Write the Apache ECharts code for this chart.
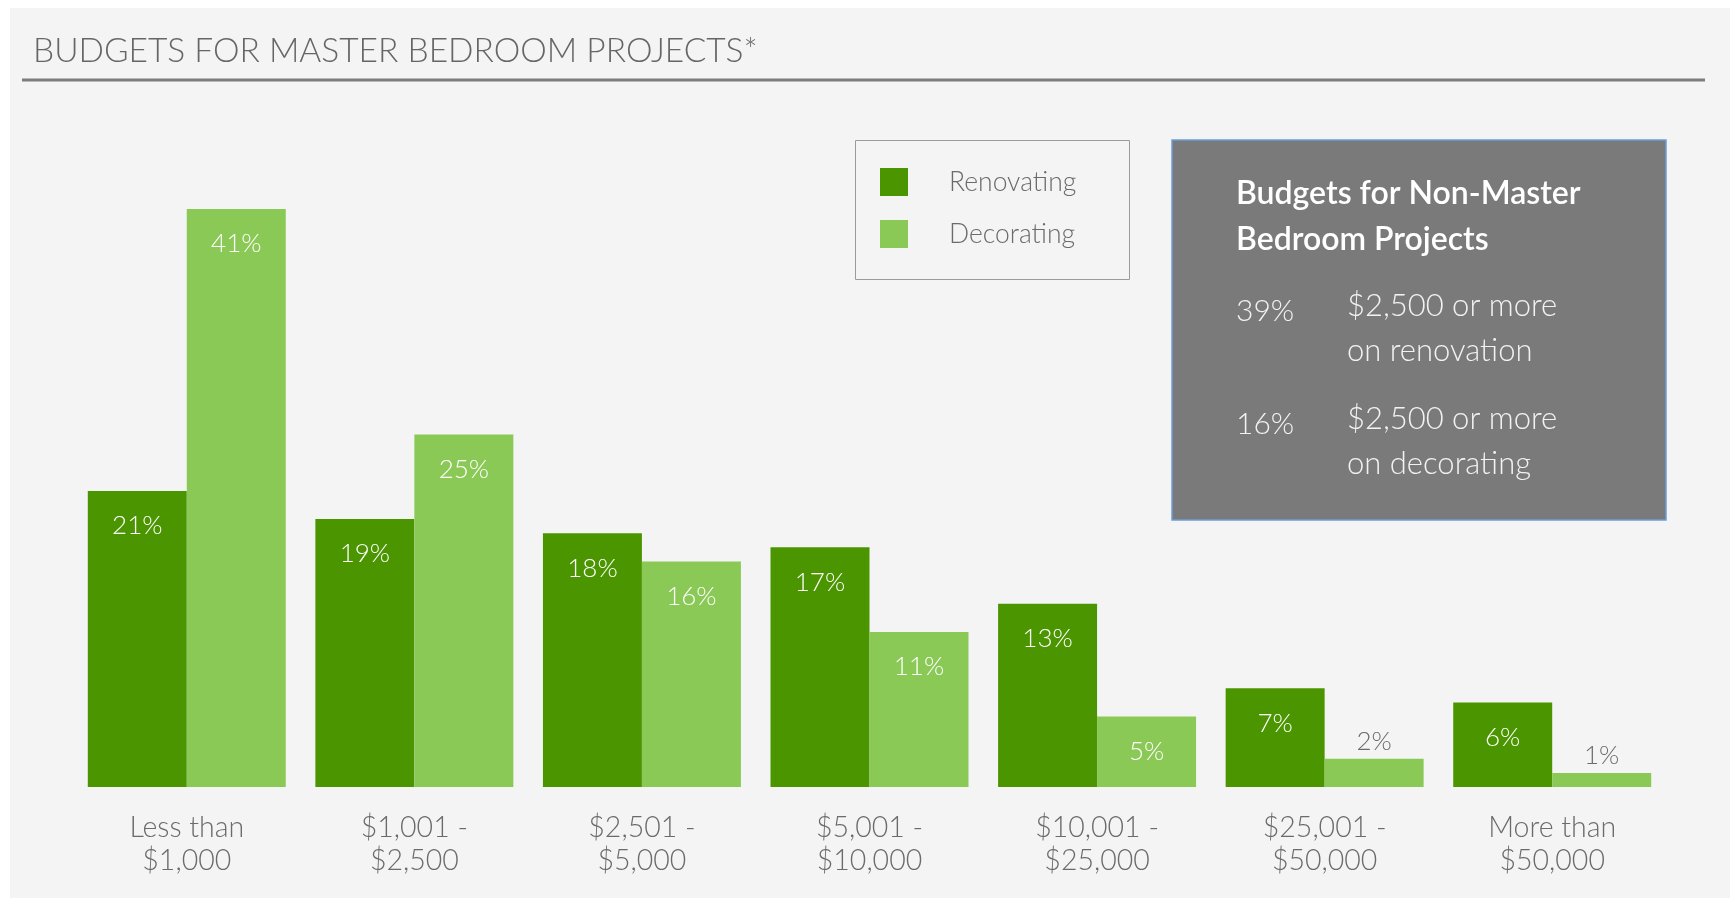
<!DOCTYPE html>
<html>
<head>
<meta charset="utf-8">
<title>Budgets for Master Bedroom Projects</title>
<script src="https://cdn.jsdelivr.net/npm/echarts@6/dist/echarts.min.js"></script>
<style>
  html, body { margin: 0; padding: 0; background: #ffffff; }
  #bg { position: absolute; left: 10px; top: 8px; right: 0; bottom: 0; background: #f4f4f4; }
  #chart { position: absolute; left: 0; top: 0; width: 1730px; height: 898px; }
</style>
</head>
<body>
<div id="bg"></div>
<div id="chart"></div>
<script>
"use strict";

// data
var categories = [
  'Less than\n$1,000',
  '$1,001 -\n$2,500',
  '$2,501 -\n$5,000',
  '$5,001 -\n$10,000',
  '$10,001 -\n$25,000',
  '$25,001 -\n$50,000',
  'More than\n$50,000'
];
var renovating = [21, 19, 18, 17, 13, 7, 6];
var decorating = [41, 25, 16, 11, 5, 2, 1];

// side panel text
var panelTitle = ['Budgets for Non-Master', 'Bedroom Projects'];
var panelRows = [
  { pct: '39%', lines: ['$2,500 or more', 'on renovation'] },
  { pct: '16%', lines: ['$2,500 or more', 'on decorating'] }
];

var FONT = 'Lato, "Open Sans", sans-serif';
var GRAY = '#6b6b6b';

// small bars get their label above the bar in gray
function toItems(values) {
  return values.map(function (v) {
    if (v < 3) {
      return {
        value: v,
        label: { position: 'top', distance: 4, color: GRAY }
      };
    }
    return v;
  });
}

var barLabel = {
  show: true,
  position: 'insideTop',
  distance: 22,
  color: '#ffffff',
  fontFamily: FONT,
  fontSize: 26,
  fontWeight: 300,
  formatter: '{c}%'
};

var graphics = [
  // rule under the title
  {
    type: 'line',
    shape: { x1: 22, y1: 80, x2: 1705, y2: 80 },
    style: { stroke: '#7d7d7d', lineWidth: 3 },
    silent: true
  },
  // legend frame
  {
    type: 'rect',
    shape: { x: 855.5, y: 140.5, width: 274, height: 139 },
    style: { fill: 'none', stroke: '#9a9a9a', lineWidth: 1 },
    silent: true
  },
  // grey side panel
  {
    type: 'rect',
    shape: { x: 1172, y: 140, width: 494, height: 380 },
    style: { fill: '#7a7a7a', stroke: '#6a9fd8', lineWidth: 1.5 },
    silent: true
  }
];

panelTitle.forEach(function (t, i) {
  graphics.push({
    type: 'text',
    x: 1236,
    y: 194 + i * 46,
    style: {
      text: t,
      fill: '#ffffff',
      font: '600 32px ' + FONT,
      verticalAlign: 'middle'
    },
    silent: true
  });
});

panelRows.forEach(function (row, i) {
  var y0 = 306 + i * 113;
  graphics.push({
    type: 'text',
    x: 1236,
    y: y0 + 5,
    style: { text: row.pct, fill: '#f2f2f2', font: '300 30px ' + FONT, verticalAlign: 'middle' },
    silent: true
  });
  row.lines.forEach(function (l, j) {
    graphics.push({
      type: 'text',
      x: 1347,
      y: y0 + j * 45,
      style: { text: l, fill: '#f2f2f2', font: '300 31px ' + FONT, verticalAlign: 'middle' },
      silent: true
    });
  });
});

var chart = echarts.init(document.getElementById('chart'));

var option = {
  backgroundColor: 'transparent',
  animation: false,
  title: {
    text: 'BUDGETS FOR MASTER BEDROOM PROJECTS*',
    left: 33,
    top: 34,
    padding: 0,
    textStyle: {
      fontFamily: FONT,
      fontSize: 33.5,
      fontWeight: 300,
      color: '#666666'
    }
  },
  legend: {
    data: ['Renovating', 'Decorating'],
    orient: 'vertical',
    left: 880,
    top: 168,
    padding: 0,
    itemWidth: 28,
    itemHeight: 28,
    itemGap: 24,
    icon: 'rect',
    selectedMode: false,
    textStyle: {
      fontFamily: FONT,
      fontSize: 26.5,
      fontWeight: 300,
      color: GRAY,
      padding: [0, 0, 0, 36]
    }
  },
  grid: {
    left: 73,
    right: 64,
    top: 152.5,
    bottom: 111
  },
  xAxis: {
    type: 'category',
    data: categories,
    axisLine: { show: false },
    axisTick: { show: false },
    axisLabel: {
      margin: 24,
      fontFamily: FONT,
      fontSize: 28.5,
      fontWeight: 300,
      lineHeight: 33,
      color: GRAY
    }
  },
  yAxis: {
    type: 'value',
    min: 0,
    max: 45,
    show: false,
    splitLine: { show: false }
  },
  series: [
    {
      name: 'Renovating',
      type: 'bar',
      data: toItems(renovating),
      barGap: '0%',
      barCategoryGap: '13%',
      itemStyle: { color: '#4b9600' },
      label: barLabel
    },
    {
      name: 'Decorating',
      type: 'bar',
      data: toItems(decorating),
      barGap: '0%',
      barCategoryGap: '13%',
      itemStyle: { color: '#8bc957' },
      label: barLabel
    }
  ],
  graphic: graphics
};

chart.setOption(option);
</script>
</body>
</html>
